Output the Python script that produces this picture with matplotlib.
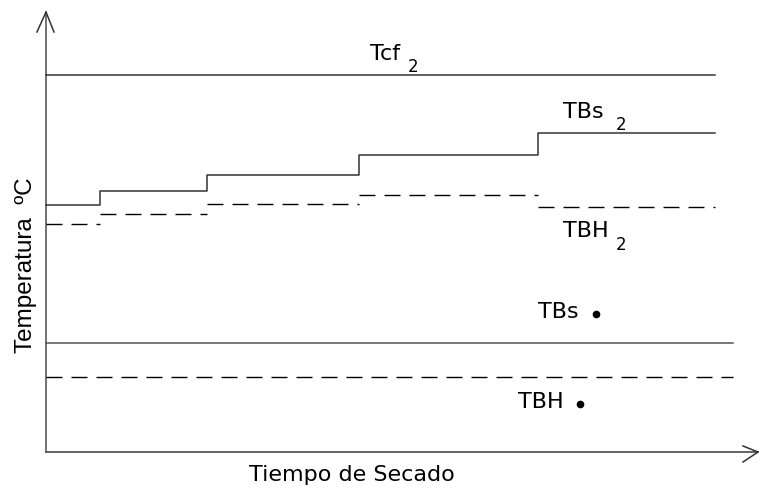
import matplotlib.pyplot as plt

plt.rcParams['font.family'] = ['DejaVu Sans']

# drying time breakpoints (arbitrary units)
t_steps = [0, 54, 161, 313, 492, 669]
# stage temperatures (arbitrary units)
tbs2 = [247.5, 261.5, 277.5, 297.5, 319.5]
tbh2 = [228, 238.5, 248.5, 257, 245.5]
tcf2 = 377
tbs = 109
tbh = 75
t_end = 687

fig = plt.figure(figsize=(7.6, 4.88), dpi=100)
ax = fig.add_axes([0, 0, 1, 1])
ax.set_xlim(-46, 714)
ax.set_ylim(-36, 452)
ax.axis('off')

col = '#333333'

# axes with open arrows
ax.plot([0, 0], [0, 440], color='#666666', lw=1.3)
ax.plot([0, 712], [0, 0], color='#555555', lw=1.3)
ax.plot([-9, 0, 8], [420, 440, 420], color=col, lw=1.1)
ax.plot([697, 712, 697], [6, 0, -10], color=col, lw=1.1)

# Tcf2
ax.plot([0, t_steps[-1]], [tcf2, tcf2], color=col, lw=1.1)

# TBs2 step line
xs, ys = [], []
for i, v in enumerate(tbs2):
    xs += [t_steps[i], t_steps[i + 1]]
    ys += [v, v]
ax.plot(xs, ys, color=col, lw=1.1)

# TBH2 dashed segments
for i, v in enumerate(tbh2):
    ax.plot([t_steps[i], t_steps[i + 1]], [v, v], color='black', lw=1.0,
            dashes=(11.5, 6.5))

# TBs / TBH
ax.plot([0, t_end], [tbs, tbs], color='#555555', lw=1.1)
ax.plot([0, t_end], [tbh, tbh], color='black', lw=1.0, dashes=(11.5, 6.5))

fs = 16
sub = 12
ax.text(324, 392, 'Tcf', fontsize=fs, va='baseline', ha='left')
ax.text(362, 380, '2', fontsize=sub, va='baseline', ha='left')
ax.text(517, 334, 'TBs', fontsize=fs, va='baseline', ha='left')
ax.text(570, 322, '2', fontsize=sub, va='baseline', ha='left')
ax.text(517, 215, 'TBH', fontsize=fs, va='baseline', ha='left')
ax.text(570, 202, '2', fontsize=sub, va='baseline', ha='left')
ax.text(492, 134, 'TBs', fontsize=fs, va='baseline', ha='left')
ax.plot([550], [138], 'o', color='black', ms=4.5)
ax.text(472, 44, 'TBH', fontsize=fs, va='baseline', ha='left')
ax.plot([534], [48], 'o', color='black', ms=4.5)

ax.text(306, -29, 'Tiempo de Secado', fontsize=fs, va='baseline', ha='center')
ax.text(-14, 187, 'Temperatura  ºC', fontsize=17.5, va='baseline', ha='center',
        rotation=90, rotation_mode='anchor', family='Liberation Sans')

fig.savefig('out.png', dpi=100)
